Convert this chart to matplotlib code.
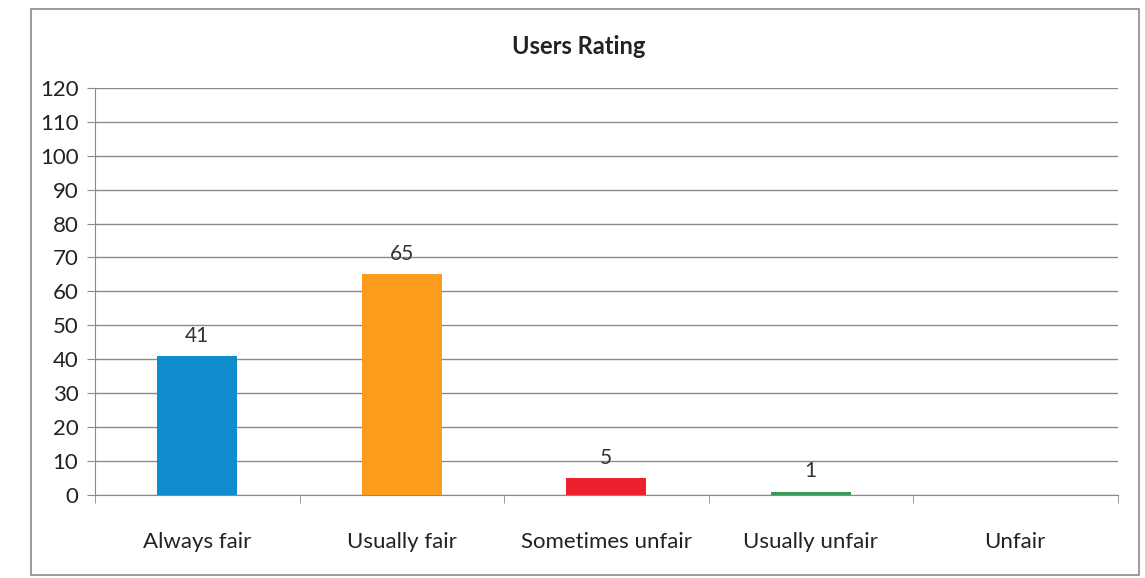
import matplotlib.pyplot as plt
from matplotlib.patches import Rectangle

# Data
categories = ["Always fair", "Usually fair", "Sometimes unfair", "Usually unfair", "Unfair"]
values = [41, 65, 5, 1, 0]
colors = ["#0f8ccc", "#fd9c1c", "#ee2030", "#3a9a5a", "#888888"]

plt.rcParams['font.family'] = ['Lato', 'DejaVu Sans']

fig = plt.figure(figsize=(11.45, 5.78), dpi=100)
ax = fig.add_axes([0.083, 0.1436, 0.893, 0.7044])

x = range(len(categories))
bars = ax.bar(x, values, width=0.39, color=colors, zorder=3)

# data labels (no label for zero)
for i, v in enumerate(values):
    if v > 0:
        ax.text(i, v + 3, str(v), ha="center", va="bottom", fontsize=15, color="#333333")

ax.set_xlim(-0.5, len(categories) - 0.5)
ax.set_ylim(0, 120)
ax.set_yticks(range(0, 121, 10))
ax.yaxis.grid(True, color="#8a8a8a", linewidth=1.0, zorder=0)
ax.set_axisbelow(True)

ax.set_xticks(list(x))
ax.set_xticklabels(categories, fontsize=16, color="#222222")
ax.set_xticks([i + 0.5 for i in range(-1, len(categories))], minor=True)
ax.tick_params(axis="x", which="major", length=0, pad=27)
ax.tick_params(axis="x", which="minor", length=6, color="#8a8a8a")
ax.tick_params(axis="y", labelsize=16, labelcolor="#222222", length=6, color="#8a8a8a", pad=6)

for side in ["top", "right"]:
    ax.spines[side].set_visible(False)
ax.spines["left"].set_color("#8a8a8a")
ax.spines["bottom"].set_color("#8a8a8a")

fig.text(0.505, 0.92, "Users Rating", ha="center", va="center", fontsize=17, fontweight="bold", color="#222222")

# outer chart border
fig.patches.append(Rectangle((0.027, 0.006), 0.968, 0.978, transform=fig.transFigure,
                             fill=False, edgecolor="#8a8a8a", linewidth=1.2))

fig.savefig("out.png", dpi=100)
